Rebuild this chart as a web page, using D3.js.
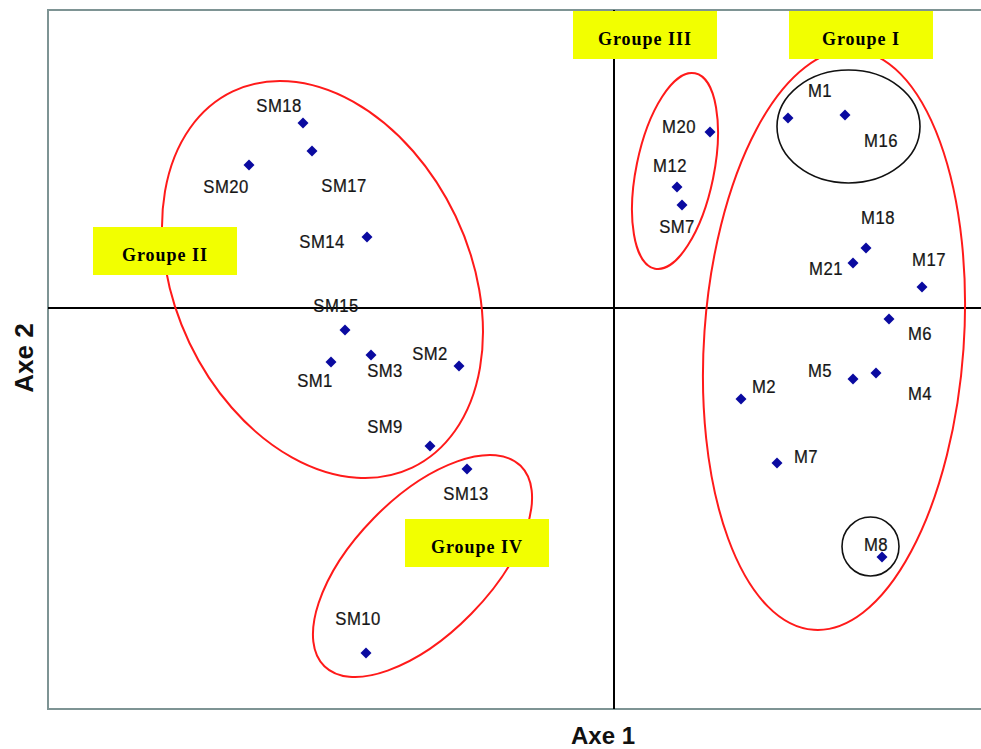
<!DOCTYPE html>
<html>
<head>
<meta charset="utf-8">
<script src="https://cdn.jsdelivr.net/npm/d3@7"></script>
<style>
  html, body { margin: 0; padding: 0; background: #fff; }
  svg { display: block; }
</style>
</head>
<body>
<svg id="chart" width="981" height="749"></svg>
<script>
// Factor scores on the first two axes
const names = ["SM18","SM17","SM20","SM14","SM15","SM1","SM3","SM2","SM9","SM13","SM10",
               "M20","M12","SM7","M1","M16","M18","M21","M17","M6","M5","M4","M2","M7","M8"];
const axe1 = [-1.555,-1.51,-1.825,-1.235,-1.345,-1.415,-1.215,-0.775,-0.92,-0.735,-1.24,
              0.48,0.315,0.34,0.87,1.155,1.26,1.195,1.54,1.375,1.195,1.31,0.635,0.815,1.34];
const axe2 = [0.925,0.785,0.715,0.355,-0.11,-0.27,-0.235,-0.29,-0.69,-0.805,-1.725,
              0.88,0.605,0.515,0.95,0.965,0.30,0.225,0.105,-0.055,-0.355,-0.325,-0.455,-0.775,-1.245];

// Group envelopes (centre and semi-axes in axis units)
const groupNames = ["Groupe I","Groupe II","Groupe III","Groupe IV"];
const groupCx = [1.10,-1.4575,0.305,-0.9575];
const groupCy = [-0.16,0.1425,0.685,-1.29];
const groupA  = [1.4525,1.042,0.4985,0.701];
const groupB  = [0.649,0.737,0.194,0.3415];

// Sub-clusters inside Groupe I
const subCx = [1.1725,1.2825];
const subCy = [0.9075,-1.1925];
const subRx = [0.3575,0.1425];
const subRy = [0.2825,0.1475];

// Axis titles
const axisTitles = ["Axe 1","Axe 2"];

// ---- layout ----
const W = 981, H = 749;
const frame = {left: 48, top: 10, right: 992, bottom: 709};
const x = d3.scaleLinear().domain([-2.83, 1.89]).range([frame.left, frame.right]);
const y = d3.scaleLinear().domain([-2.005, 1.49]).range([frame.bottom, frame.top]);
const unit = x(1) - x(0);

// label offsets in px: [dx to text centre, dy to baseline]
const labelOff = {
  SM18:[-24,-11], SM17:[32,41], SM20:[-23,28], SM14:[-45,11], SM15:[-9,-18],
  SM1:[-16,25], SM3:[14,22], SM2:[-29,-6], SM9:[-45,-13], SM13:[-1,31], SM10:[-8,-28],
  M20:[-31,1], M12:[-7,-15], SM7:[-5,28], M1:[32,-21], M16:[36,32], M18:[12,-24],
  M21:[-27,12], M17:[7,-21], M6:[31,21], M5:[-33,-2], M4:[44,27], M2:[23,-6], M7:[29,0], M8:[-6,-6]
};
const groupAngle = [-86, 64.5, -78.4, -45.6];
// caption boxes: [x, y] top-left
const boxPos = [[789,11],[93,227],[573,11],[405,519]];
const boxW = 144, boxH = 48;

const svg = d3.select("#chart");
svg.append("rect").attr("width", W).attr("height", H).attr("fill", "#fff");

// frame
svg.append("rect")
  .attr("x", frame.left).attr("y", frame.top)
  .attr("width", frame.right - frame.left).attr("height", frame.bottom - frame.top)
  .attr("fill", "none").attr("stroke", "#7e9494").attr("stroke-width", 2);

// zero axes
svg.append("line").attr("x1", x(0)).attr("x2", x(0)).attr("y1", frame.top).attr("y2", frame.bottom)
  .attr("stroke", "#000").attr("stroke-width", 2);
svg.append("line").attr("x1", frame.left).attr("x2", frame.right).attr("y1", y(0)).attr("y2", y(0))
  .attr("stroke", "#000").attr("stroke-width", 2);

// group envelopes
const groups = groupNames.map((g, i) => ({g, cx: groupCx[i], cy: groupCy[i], a: groupA[i], b: groupB[i], ang: groupAngle[i]}));
svg.append("g").selectAll("ellipse").data(groups).join("ellipse")
  .attr("transform", d => `translate(${x(d.cx)},${y(d.cy)}) rotate(${d.ang})`)
  .attr("rx", d => d.a * unit).attr("ry", d => d.b * unit)
  .attr("fill", "none").attr("stroke", "#ff1a1a").attr("stroke-width", 2);

// sub-clusters
svg.append("g").selectAll("ellipse").data(subCx.map((c, i) => ({cx: c, cy: subCy[i], rx: subRx[i], ry: subRy[i]}))).join("ellipse")
  .attr("cx", d => x(d.cx)).attr("cy", d => y(d.cy))
  .attr("rx", d => d.rx * unit).attr("ry", d => d.ry * unit)
  .attr("fill", "none").attr("stroke", "#111").attr("stroke-width", 1.6);

// caption boxes
const boxes = svg.append("g").selectAll("g").data(groupNames).join("g")
  .attr("transform", (d, i) => `translate(${boxPos[i][0]},${boxPos[i][1]})`);
boxes.append("rect").attr("width", boxW).attr("height", boxH).attr("fill", "#f2ff00");
boxes.append("text").text(d => d)
  .attr("x", boxW / 2).attr("y", 34)
  .attr("text-anchor", "middle")
  .attr("font-family", "'Liberation Serif', 'DejaVu Serif', serif")
  .attr("font-weight", "bold").attr("font-size", 18).attr("letter-spacing", 1)
  .attr("fill", "#000");

// points
const pts = names.map((n, i) => ({n, vx: axe1[i], vy: axe2[i]}));
svg.append("g").selectAll("path").data(pts).join("path")
  .attr("d", d3.symbol().type(d3.symbolSquare).size(60))
  .attr("transform", d => `translate(${x(d.vx)},${y(d.vy)}) rotate(45)`)
  .attr("fill", "#0a0aa0");

// point labels
svg.append("g").selectAll("text").data(pts).join("text")
  .text(d => d.n)
  .attr("transform", d => `translate(${x(d.vx) + labelOff[d.n][0]},${y(d.vy) + labelOff[d.n][1]}) scale(0.88,1)`)
  .attr("text-anchor", "middle")
  .attr("font-family", "'Liberation Sans', Arial, sans-serif")
  .attr("font-size", 19).attr("letter-spacing", 0.5)
  .attr("fill", "#161616").attr("stroke", "#161616").attr("stroke-width", 0.25);

// axis titles
svg.append("text").text(axisTitles[0])
  .attr("x", 603).attr("y", 744).attr("text-anchor", "middle")
  .attr("font-family", "'Liberation Sans', Arial, sans-serif")
  .attr("font-weight", "bold").attr("font-size", 24).attr("fill", "#111");
svg.append("text").text(axisTitles[1])
  .attr("transform", "translate(33,358) rotate(-90)").attr("text-anchor", "middle")
  .attr("font-family", "'Liberation Sans', Arial, sans-serif")
  .attr("font-weight", "bold").attr("font-size", 26).attr("fill", "#111");
</script>
</body>
</html>
